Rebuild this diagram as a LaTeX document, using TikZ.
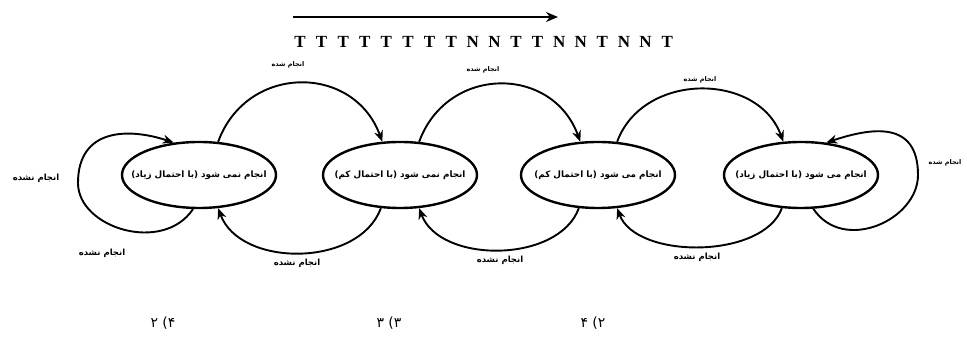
\documentclass[tikz,border=0pt]{standalone}
\usepackage{fontspec}
\setmainfont{Liberation Serif}
\newfontfamily\fa[Script=Arabic]{DejaVu Sans}
\TeXXeTstate=1
\usetikzlibrary{shapes.geometric,arrows.meta}
\newcommand{\zbox}[1]{\makebox[0pt]{#1}}
\begin{document}
\begin{tikzpicture}[x=1pt,y=1pt,
  st/.style={ellipse,draw,line width=2.4pt,minimum width=154pt,minimum height=66pt,inner sep=0pt,font=\fa\bfseries\fontsize{8.8}{10}\selectfont},
  tr/.style={line width=1.9pt,-{Stealth[length=11pt,width=9pt]}},
  lab/.style={font=\fa\bfseries\fontsize{6.5}{7}\selectfont,inner sep=1pt},
  labb/.style={font=\fa\bfseries\fontsize{8.5}{9}\selectfont,inner sep=1pt},
  opt/.style={font=\fa\fontsize{14}{15}\selectfont,inner sep=1pt},
  seq/.style={font=\bfseries\fontsize{17}{17}\selectfont,inner sep=0pt},
]
\useasboundingbox (0,0) rectangle (967,352);
% sequence and arrow
\coordinate (a0) at (293,335);
\coordinate (a1) at (558,335);
\draw[line width=2pt,-{Stealth[length=12pt,width=10pt]}] (a0) -- (a1);
\foreach \c [count=\i] in {T,T,T,T,T,T,T,T,N,N,T,T,N,N,T,N,N,T}
  \node[seq] (q\i) at ({300+(\i-1)*21.6},310) {\c};
% states
\node[st] (s1) at (199,177) {\zbox{\beginR انجام نمی شود (با احتمال زیاد)\endR}};
\node[st] (s2) at (400,177) {\zbox{\beginR انجام نمی شود (با احتمال کم)\endR}};
\node[st] (s3) at (598,177) {\zbox{\beginR انجام می شود (با احتمال کم)\endR}};
\node[st] (s4) at (801,177) {\zbox{\beginR انجام می شود (با احتمال زیاد)\endR}};
% taken transitions
\draw[tr] (s1.60) to[out=70,in=110,looseness=1.3] (s2.118);
\draw[tr] (s2.60) to[out=70,in=110,looseness=1.3] (s3.118);
\draw[tr] (s3.60) to[out=70,in=110,looseness=1.15] (s4.118);
% not taken transitions
\draw[tr] (s2.-120) to[out=-110,in=-70,looseness=1] (s1.-60);
\draw[tr] (s3.-120) to[out=-110,in=-70,looseness=0.95] (s2.-60);
\draw[tr] (s4.-120) to[out=-110,in=-70,looseness=0.85] (s3.-60);
% self loops
\coordinate (lL) at (78,169);
\draw[tr] (s1.-100) .. controls +(-30,-45) and +(0,-45) .. (lL) .. controls +(0,55) and +(-45,15) .. (s1.128);
\coordinate (lR) at (918,177);
\draw[tr] (s4.-70) .. controls +(30,-45) and +(0,-45) .. (lR) .. controls +(0,55) and +(45,15) .. (s4.52);
% labels
\node[lab] (t12) at (288,287) {\beginR انجام شده\endR};
\node[lab] (t23) at (483,282) {\beginR انجام شده\endR};
\node[lab] (t34) at (700,272) {\beginR انجام شده\endR};
\node[lab] (t44) at (945,189) {\beginR انجام شده\endR};
\node[labb] (n11) at (36,174) {\beginR انجام نشده\endR};
\node[labb] (n11b) at (102,99) {\beginR انجام نشده\endR};
\node[labb] (n21) at (297,89) {\beginR انجام نشده\endR};
\node[labb] (n32) at (500,92) {\beginR انجام نشده\endR};
\node[labb] (n43) at (697,95) {\beginR انجام نشده\endR};
% options
\node[opt] (o1) at (163,29) {\beginR ۴) ۲\endR};
\node[opt] (o2) at (389,29) {\beginR ۳) ۳\endR};
\node[opt] (o3) at (593,29) {\beginR ۲) ۴\endR};
\end{tikzpicture}
\end{document}
